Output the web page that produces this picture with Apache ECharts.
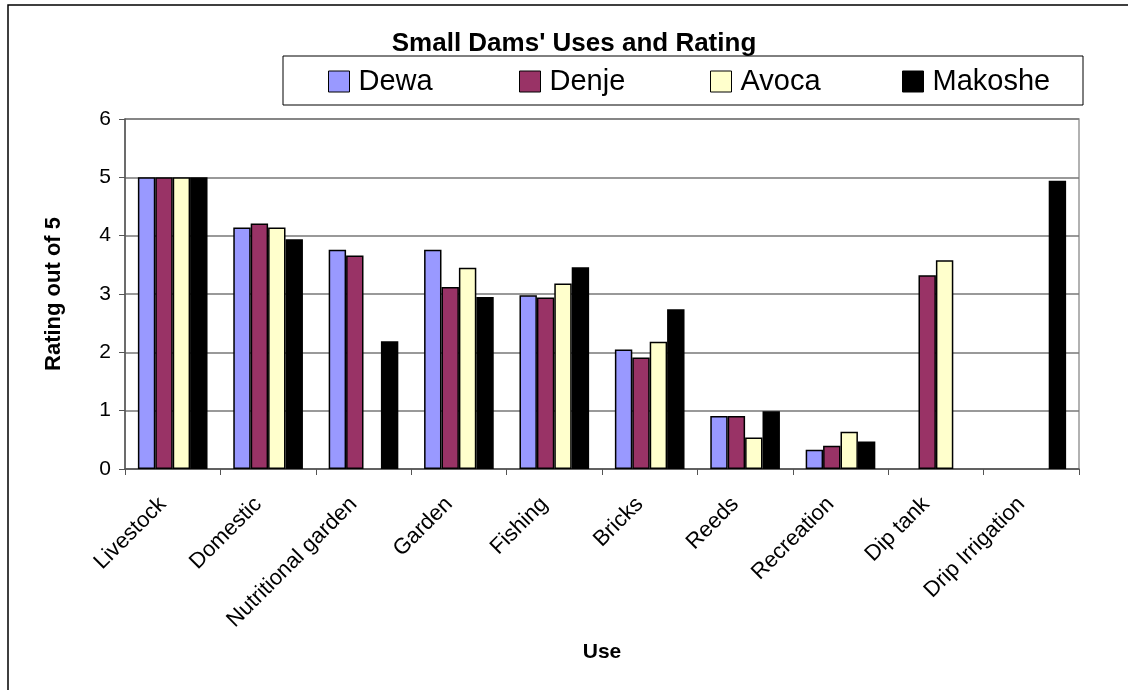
<!DOCTYPE html>
<html>
<head>
<meta charset="utf-8">
<script src="https://cdn.jsdelivr.net/npm/echarts@6/dist/echarts.min.js"></script>
<style>
html,body{margin:0;padding:0;background:#fff;}
#main{width:1128px;height:690px;}
</style>
</head>
<body>
<div id="main"></div>
<script>
// categories and series
var uses = ['Livestock','Domestic','Nutritional garden','Garden','Fishing','Bricks','Reeds','Recreation','Dip tank','Drip Irrigation'];
var dewa    = [5, 4.14, 3.76, 3.76, 2.98, 2.05, 0.91, 0.33, '-', '-'];
var denje   = [5, 4.21, 3.66, 3.12, 2.94, 1.91, 0.91, 0.40, 3.32, '-'];
var avoca   = [5, 4.14, '-', 3.45, 3.18, 2.18, 0.54, 0.64, 3.58, '-'];
var makoshe = [5, 3.94, 2.19, 2.95, 3.46, 2.74, 0.99, 0.47, '-', 4.94];
var seriesNames = ['Dewa','Denje','Avoca','Makoshe'];
var seriesColors = ['#9999ff','#993366','#ffffcc','#000000'];
var yTicks = [0,1,2,3,4,5,6];

var font = 'Liberation Sans, Arial, sans-serif';
var allData = [dewa,denje,avoca,makoshe];

var series = [];
for(var i=0;i<seriesNames.length;i++){
    series.push({
        name: seriesNames[i],
        type: 'bar',
        barGap: '0%',
        barCategoryGap: '27%',
        itemStyle: {color: seriesColors[i], borderColor: '#000', borderWidth: 1.5},
        data: allData[i]
    });
}

// one legend per item so the spacing matches the boxed Excel legend
var legendLefts = [323, 514, 705, 897];
var legends = [];
for(var j=0;j<seriesNames.length;j++){
    legends.push({
        data: [seriesNames[j]],
        left: legendLefts[j],
        top: 62,
        itemWidth: 21,
        itemHeight: 21,
        itemGap: 0,
        icon: 'rect',
        itemStyle: {borderColor: '#000', borderWidth: 1},
        textStyle: {fontFamily: font, fontSize: 29, color: '#000', padding: [0,0,0,4]}
    });
}

var e = echarts.init(document.getElementById('main'));
var option = {
    animation: false,
    backgroundColor: '#fff',
    title: {
        text: "Small Dams' Uses and Rating",
        left: 569, textAlign: 'center',
        top: 26,
        textStyle: {fontFamily: font, fontSize: 26, fontWeight: 'bold', color: '#000'}
    },
    legend: legends,
    graphic: [
        {type:'rect', shape:{x:8,y:5,width:1140,height:700}, style:{fill:null, stroke:'#000', lineWidth:1.5}, z:-1},
        {type:'rect', shape:{x:283,y:56,width:800,height:49}, style:{fill:'#fff', stroke:'#000', lineWidth:1}, z:-1}
    ],
    grid: {left:125, right:49, top:119, bottom:221, show:true, borderColor:'#999', borderWidth:1.5},
    xAxis: {
        type: 'category',
        data: uses,
        name: 'Use',
        nameLocation: 'middle',
        nameGap: 173,
        nameTextStyle: {fontFamily: font, fontSize: 21, fontWeight: 'bold', color: '#000'},
        axisLine: {lineStyle: {color: '#555', width: 1.5}},
        axisTick: {show: true, length: 6, lineStyle: {color: '#555'}},
        axisLabel: {rotate: 45, fontFamily: font, fontSize: 22, color: '#000', margin: 22, padding: [0,14,0,0]}
    },
    yAxis: {
        type: 'value',
        min: yTicks[0],
        max: yTicks[yTicks.length-1],
        interval: 1,
        name: 'Rating out of 5',
        nameLocation: 'middle',
        nameGap: 60,
        nameTextStyle: {fontFamily: font, fontSize: 22, fontWeight: 'bold', color: '#000'},
        axisLine: {show: true, lineStyle: {color: '#555', width: 1.5}},
        axisTick: {show: true, length: 6, lineStyle: {color: '#555'}},
        axisLabel: {fontFamily: font, fontSize: 21, color: '#000', margin: 14},
        splitLine: {show: true, lineStyle: {color: '#777', width: 1.5}}
    },
    series: series
};
e.setOption(option);
</script>
</body>
</html>
